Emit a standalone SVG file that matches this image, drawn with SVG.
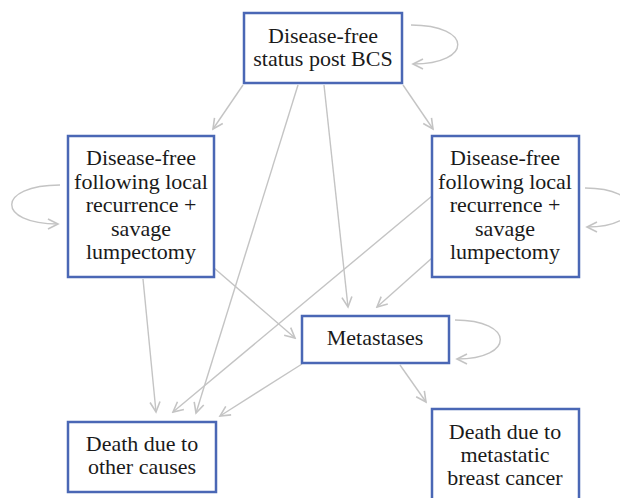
<svg xmlns="http://www.w3.org/2000/svg" width="620" height="498" viewBox="0 0 620 498">
<style>
.box{fill:#fff;stroke:#4a67b5;stroke-width:2.5}
.t{font-family:'Liberation Serif','Times New Roman','DejaVu Serif',serif;font-size:22px;fill:#1a1a1a;text-anchor:middle}
.c{fill:none;stroke:#c4c4c4;stroke-width:1.4;marker-end:url(#ah)}
</style>
<defs>
<marker id="ah" viewBox="-11 -7 13 14" refX="0" refY="0" markerWidth="13" markerHeight="14" markerUnits="userSpaceOnUse" orient="auto">
<path d="M-10,-5 L0,0 L-10,5" fill="none" stroke="#c4c4c4" stroke-width="1.6" stroke-linejoin="miter"/>
</marker>
</defs>
<rect width="620" height="498" fill="#fff"/>
<g id="connectors">
<path class="c" d="M243,85 L213,129"/>
<path class="c" d="M403,85 L433,129"/>
<path class="c" d="M298,85 L196,413"/>
<path class="c" d="M324,85 L348,307"/>
<path class="c" d="M143,279 L156,412"/>
<path class="c" d="M214,268 L295,338"/>
<path class="c" d="M432,196 L173,412"/>
<path class="c" d="M432,258 L377,307"/>
<path class="c" d="M302,364 L220,416"/>
<path class="c" d="M400,365 L426,402"/>
<path class="c" d="M411,25 C473,25 473,64 413,64"/>
<path class="c" d="M60,185 C-4,185 -4,224 58,224"/>
<path class="c" d="M585,188 C645,188 645,227 587,227"/>
<path class="c" d="M455,320 C515,320 515,359 457,359"/>
</g>
<g font-family="Liberation Serif, serif">
<g id="n_top">
<rect class="box" x="244" y="13" width="158" height="70"/>
<text class="t" x="323" y="43">Disease-free</text>
<text class="t" x="323" y="66">status post BCS</text>
</g>
<g id="n_left">
<rect class="box" x="68" y="136" width="146" height="141"/>
<text class="t" x="141" y="165">Disease-free</text>
<text class="t" x="141" y="189">following local</text>
<text class="t" x="141" y="212">recurrence +</text>
<text class="t" x="141" y="236">savage</text>
<text class="t" x="141" y="259">lumpectomy</text>
</g>
<g id="n_right">
<rect class="box" x="432" y="136" width="147" height="141"/>
<text class="t" x="505" y="165">Disease-free</text>
<text class="t" x="505" y="189">following local</text>
<text class="t" x="505" y="212">recurrence +</text>
<text class="t" x="505" y="236">savage</text>
<text class="t" x="505" y="259">lumpectomy</text>
</g>
<g id="n_meta">
<rect class="box" x="302" y="316" width="147" height="47"/>
<text class="t" x="375" y="345">Metastases</text>
</g>
<g id="n_death_other">
<rect class="box" x="68" y="422" width="148" height="70"/>
<text class="t" x="142" y="451">Death due to</text>
<text class="t" x="142" y="474">other causes</text>
</g>
<g id="n_death_meta">
<rect class="box" x="432" y="409" width="147" height="95"/>
<text class="t" x="505" y="439">Death due to</text>
<text class="t" x="505" y="462">metastatic</text>
<text class="t" x="505" y="485">breast cancer</text>
</g>
</g>
</svg>
